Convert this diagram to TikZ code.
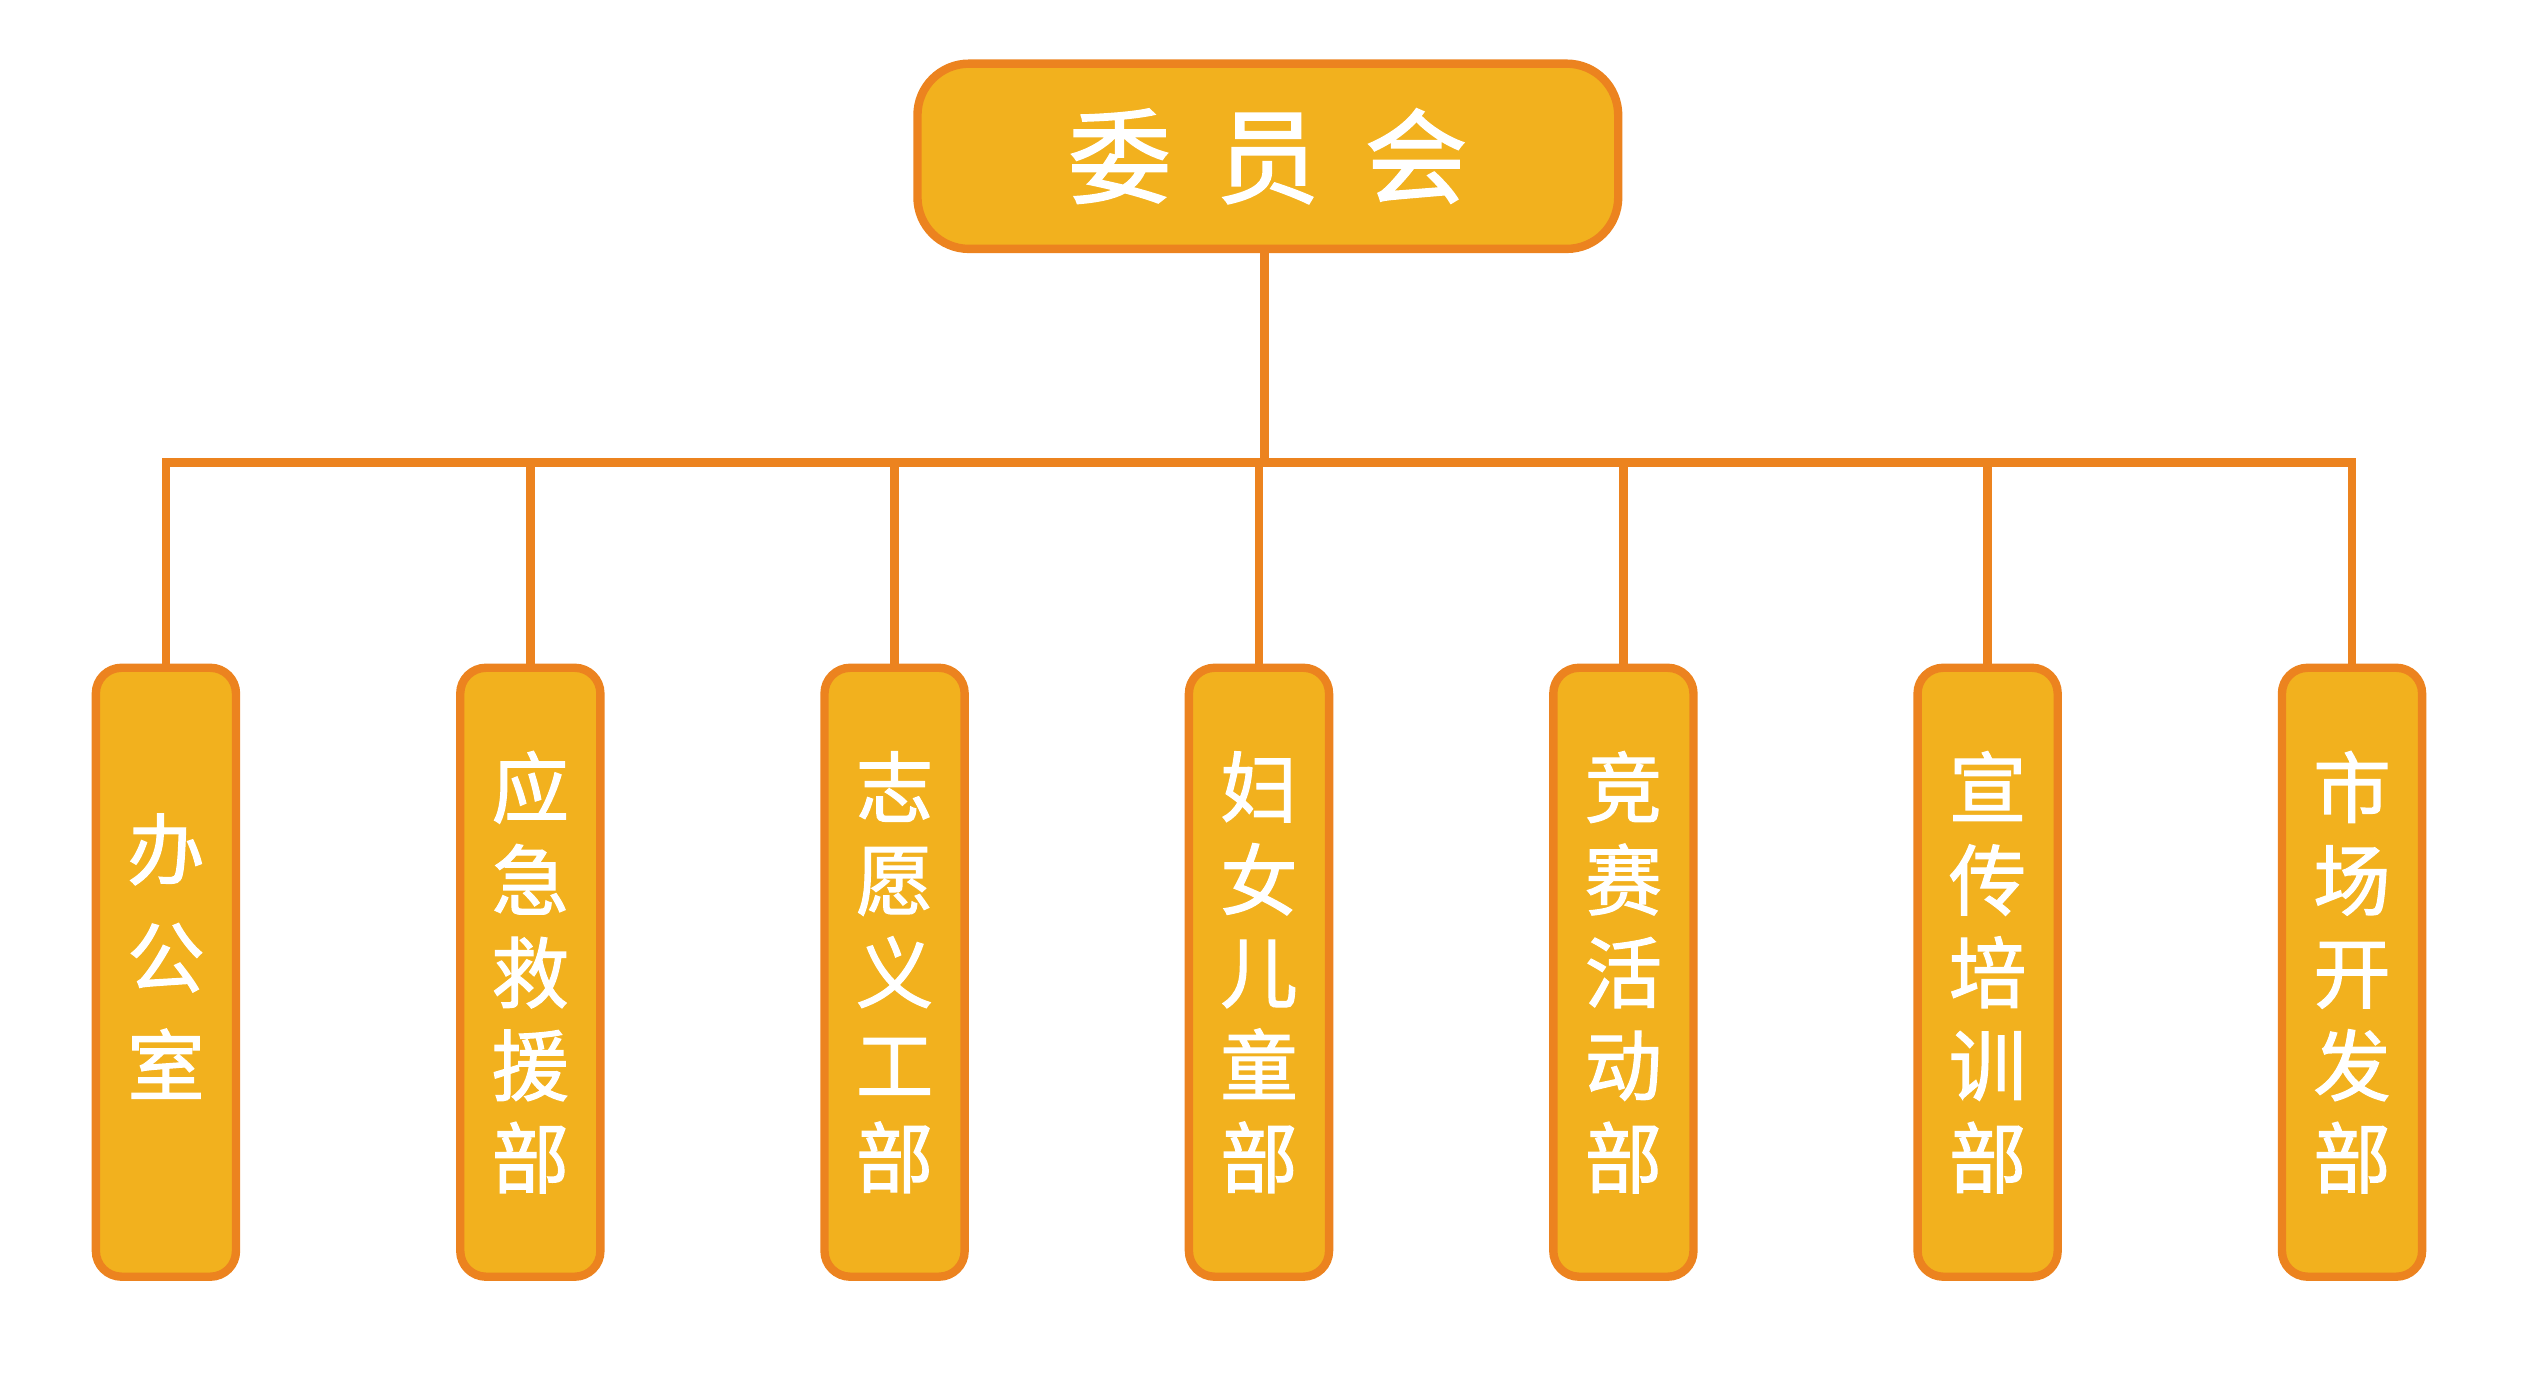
\documentclass[tikz,border=0pt]{standalone}
\usepackage{fontspec}
\newfontfamily\cjk[FakeBold=1.5]{Noto Sans CJK SC}
\definecolor{boxfill}{RGB}{242,177,30}
\definecolor{boxline}{RGB}{236,131,31}
\begin{document}
\begin{tikzpicture}[x=0.5pt,y=-0.5pt,
  head/.style={draw=boxline,fill=boxfill,line width=2.6pt,rounded corners=16pt,
    minimum width=217.5pt,minimum height=57.5pt,inner sep=0pt,text=white,
    font=\cjk\fontsize{32}{36}\selectfont},
  dept/.style={draw=boxline,fill=boxfill,line width=2.6pt,rounded corners=8pt,
    minimum width=43.5pt,minimum height=189pt,inner sep=0pt,text=white,align=center,
    font=\cjk\fontsize{24}{28.75}\selectfont},
  depttext/.style={inner sep=0pt,text=white,align=center,
    font=\cjk\fontsize{24}{33.5}\selectfont},
  link/.style={draw=boxline,line width=2.6pt}]
\useasboundingbox (0,0) rectangle (1568,853);
\node[head] (top) at (787,97) {委\hspace{14pt}员\hspace{14pt}会};
\coordinate (bus) at (785,287);
\node[dept] (c1) at (103,603.5) {};
\node[depttext] (t1) at ([yshift=5pt]c1.center) {办\\公\\室};
\node[dept] (c2) at (329.2,603.5) {应\\急\\救\\援\\部};
\node[dept] (c3) at (555.3,603.5) {志\\愿\\义\\工\\部};
\node[dept] (c4) at (781.5,603.5) {妇\\女\\儿\\童\\部};
\node[dept] (c5) at (1007.7,603.5) {竞\\赛\\活\\动\\部};
\node[dept] (c6) at (1233.8,603.5) {宣\\传\\培\\训\\部};
\node[dept] (c7) at (1460,603.5) {市\\场\\开\\发\\部};
\draw[link] (top.south -| bus) -- (bus);
\draw[link] (c1.north) -- (c1.north |- bus) -- (c7.north |- bus) -- (c7.north);
\foreach \i in {2,...,6} {\draw[link] (c\i.north) -- (c\i.north |- bus);}
\end{tikzpicture}
\end{document}
